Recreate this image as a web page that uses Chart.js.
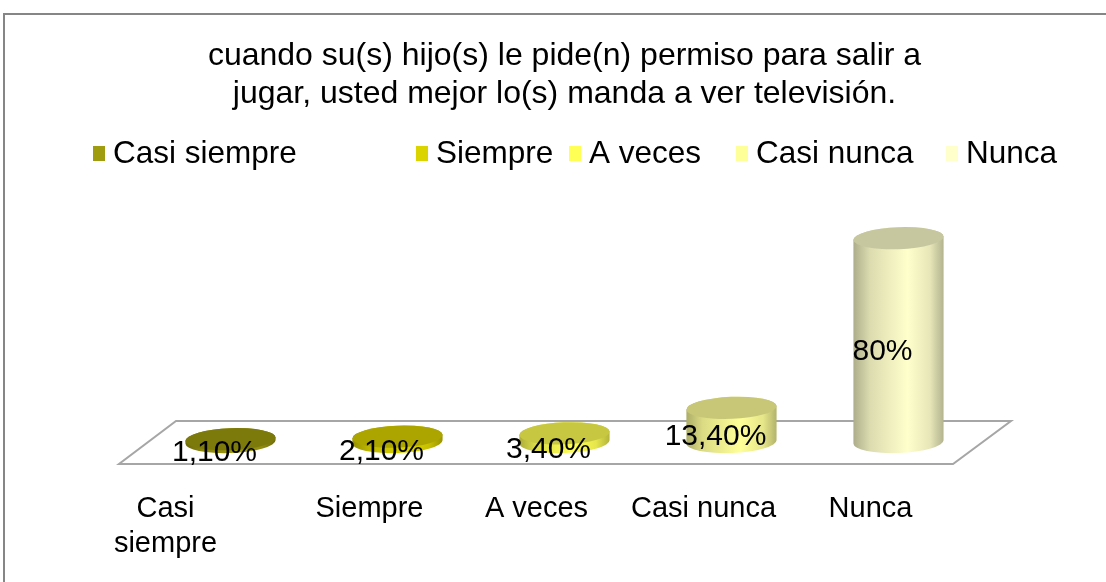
<!DOCTYPE html>
<html>
<head>
<meta charset="utf-8">
<script src="https://cdn.jsdelivr.net/npm/chart.js@4/dist/chart.umd.min.js"></script>
<style>
  body { margin: 0; background: #fff; overflow: hidden; }
  #frame { position: absolute; left: 3px; top: 13px; width: 1300px; height: 800px;
           border-top: 2px solid #868686; border-left: 2px solid #868686; }
  #chart { position: absolute; left: 0; top: 0; }
</style>
</head>
<body>
<div id="frame"></div>
<canvas id="chart" width="1106" height="582"></canvas>
<script>
// data
const categories = ['Casi siempre', 'Siempre', 'A veces', 'Casi nunca', 'Nunca'];
const tickLabels = [['Casi', 'siempre'], ['Siempre'], ['A veces'], ['Casi nunca'], ['Nunca']];
const values = [1.1, 2.1, 3.4, 13.4, 80];
const valueLabels = ['1,10%', '2,10%', '3,40%', '13,40%', '80%'];
const colors = ['#a09c10', '#dcd400', '#ffff55', '#ffff99', '#ffffcc'];
const titleLines = ['cuando su(s) hijo(s) le pide(n) permiso para salir a',
                    'jugar, usted mejor lo(s) manda a ver televisión.'];

const FONT = '"Liberation Sans", Arial, sans-serif';

// darken a hex colour by factor f
function shade(hex, f) {
    let n = parseInt(hex.slice(1), 16);
    let r = Math.round(((n >> 16) & 255) * f);
    let g = Math.round(((n >> 8) & 255) * f);
    let b = Math.round((n & 255) * f);
    return `rgb(${r},${g},${b})`;
}

function drawCylinder(ctx, x, top, base, w, color) {
    let rx = w / 2, ry = 11, rot = -0.04;
    let grad = ctx.createLinearGradient(x - rx, 0, x + rx, 0);
    grad.addColorStop(0, shade(color, 0.68));
    grad.addColorStop(0.18, shade(color, 0.86));
    grad.addColorStop(0.6, color);
    grad.addColorStop(0.85, shade(color, 0.9));
    grad.addColorStop(1, shade(color, 0.7));

    ctx.save();
    ctx.beginPath();
    ctx.moveTo(x - rx, top);
    ctx.lineTo(x - rx, base);
    ctx.ellipse(x, base, rx, ry, rot, Math.PI, 0, true);
    ctx.lineTo(x + rx, top);
    ctx.ellipse(x, top, rx, ry, rot, 0, Math.PI, true);
    ctx.closePath();
    ctx.fillStyle = grad;
    ctx.fill();

    ctx.beginPath();
    ctx.ellipse(x, top, rx, ry, rot, 0, Math.PI * 2);
    ctx.fillStyle = shade(color, 0.78);
    ctx.fill();
    ctx.restore();
}

const cylinderPlugin = {
    id: 'cylinders',
    beforeDatasetsDraw(chart) {
        let ctx = chart.ctx;
        let area = chart.chartArea;
        let y0 = chart.scales.y.getPixelForValue(0);
        // floor of the 3D plot
        ctx.save();
        ctx.beginPath();
        ctx.moveTo(area.left + 29, y0 - 21);
        ctx.lineTo(area.right + 29, y0 - 21);
        ctx.lineTo(area.right - 29, y0 + 22);
        ctx.lineTo(area.left - 28, y0 + 22);
        ctx.closePath();
        ctx.fillStyle = '#ffffff';
        ctx.fill();
        ctx.strokeStyle = '#a6a6a6';
        ctx.lineWidth = 2;
        ctx.stroke();
        ctx.restore();

        let meta = chart.getDatasetMeta(0);
        meta.data.forEach((bar, i) => {
            drawCylinder(ctx, bar.x, bar.y, bar.base, bar.width, colors[i]);
        });
        return false;
    },
    afterDraw(chart) {
        let ctx = chart.ctx;
        let meta = chart.getDatasetMeta(0);
        ctx.save();
        ctx.fillStyle = '#000';
        ctx.textAlign = 'center';
        ctx.textBaseline = 'middle';

        // value labels
        ctx.font = `30px ${FONT}`;
        meta.data.forEach((bar, i) => {
            ctx.fillText(valueLabels[i], bar.x - 16, (bar.y + bar.base) / 2 + 12);
        });

        // category labels on the front edge
        ctx.font = `29px ${FONT}`;
        meta.data.forEach((bar, i) => {
            let dx = i == 0 ? -65 : -28;
            tickLabels[i].forEach((line, k) => {
                ctx.fillText(line, bar.x + dx, 509 + k * 35);
            });
        });

        // legend
        let boxX = [93, 416, 569, 736, 946];
        ctx.font = `31.5px ${FONT}`;
        ctx.textAlign = 'left';
        categories.forEach((name, i) => {
            ctx.fillStyle = colors[i];
            ctx.fillRect(boxX[i], 146, 12, 15);
            ctx.fillStyle = '#000';
            ctx.fillText(name, boxX[i] + 20, 154);
        });
        ctx.restore();
    }
};

new Chart(document.getElementById('chart'), {
    type: 'bar',
    data: {
        labels: categories,
        datasets: [{
            data: values,
            backgroundColor: colors,
            categoryPercentage: 1,
            barPercentage: 0.54
        }]
    },
    options: {
        responsive: false,
        animation: false,
        layout: { padding: { left: 147, right: 124, top: 0, bottom: 140 } },
        scales: {
            x: { display: false },
            y: { display: false, min: 0, max: 100 }
        },
        plugins: {
            legend: { display: false },
            tooltip: { enabled: false },
            title: {
                display: true,
                text: titleLines,
                color: '#000',
                font: { family: FONT, size: 32, weight: 'normal', lineHeight: 1.16 },
                padding: { top: 38, bottom: 75 }
            }
        }
    },
    plugins: [cylinderPlugin]
});
</script>
</body>
</html>
